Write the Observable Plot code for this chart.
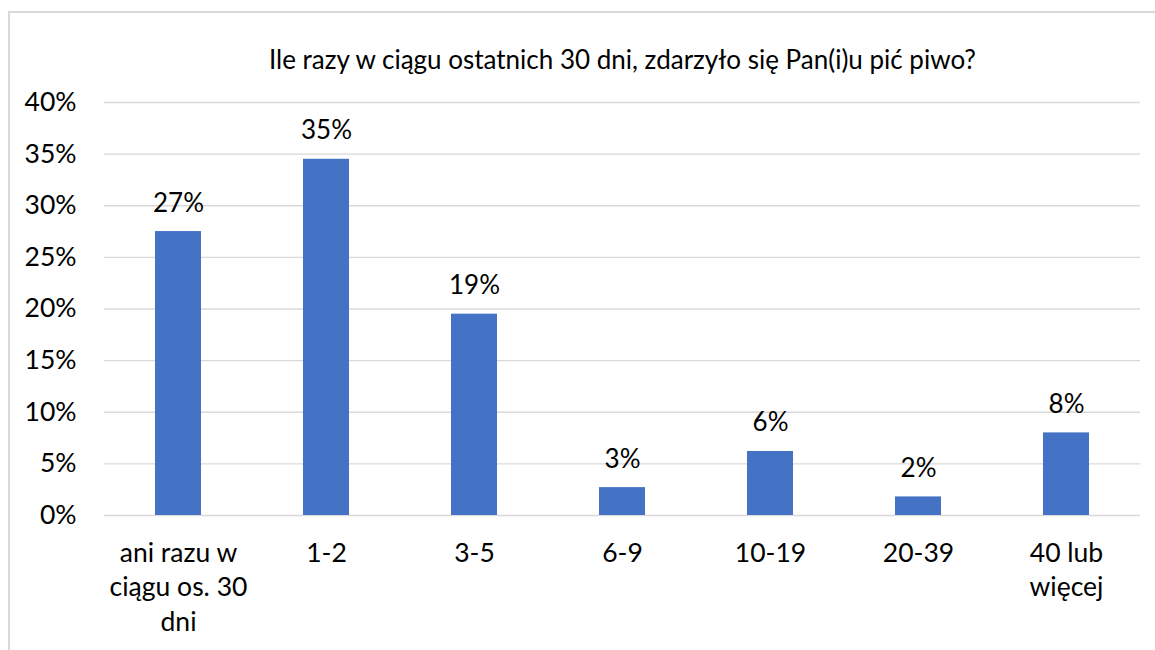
<!DOCTYPE html>
<html>
<head>
<meta charset="utf-8">
<script src="https://cdn.jsdelivr.net/npm/d3@7"></script>
<script src="https://cdn.jsdelivr.net/npm/@observablehq/plot@0.6"></script>
<style>
  html, body { margin: 0; padding: 0; background: #fff; }
  #wrap { position: relative; width: 1155px; height: 650px; overflow: hidden; }
  #frame { position: absolute; left: 8px; top: 11px; width: 1300px; height: 800px; border: 2px solid #d9d9d9; box-sizing: border-box; }
  #chart { position: absolute; left: 0; top: 0; }
</style>
</head>
<body>
<div id="wrap"><div id="frame"></div><div id="chart"></div></div>
<script>
const title = "Ile razy w ciągu ostatnich 30 dni, zdarzyło się Pan(i)u pić piwo?";
const categories = ["ani razu w\nciągu os. 30\ndni", "1-2", "3-5", "6-9", "10-19", "20-39", "40 lub\nwięcej"];
const values = [0.275, 0.345, 0.195, 0.027, 0.062, 0.018, 0.080];
const valueLabels = ["27%", "35%", "19%", "3%", "6%", "2%", "8%"];
const yTicks = [0, 0.05, 0.10, 0.15, 0.20, 0.25, 0.30, 0.35, 0.40];

const data = categories.map((c, i) => ({cat: c, value: values[i], label: valueLabels[i]}));

const chart = Plot.plot({
  width: 1155,
  height: 650,
  marginLeft: 104,
  marginRight: 15,
  marginTop: 102,
  marginBottom: 135,
  style: {fontFamily: "Lato", fontSize: "26px", color: "#000", background: "transparent"},
  x: {domain: categories, paddingInner: 0.689, paddingOuter: 0.3445, align: 0.5, label: null},
  y: {domain: [0, 0.4], label: null},
  marks: [
    Plot.gridY(yTicks, {stroke: "#d9d9d9", strokeOpacity: 1, strokeWidth: 1.3}),
    Plot.axisY(yTicks, {tickSize: 0, tickPadding: 28, tickFormat: d => Math.round(d * 100) + "%", label: null, fontSize: 26.5}),
    Plot.axisX({tickSize: 0, tickPadding: 22, label: null, fontSize: 26.5, lineHeight: 1.3}),
    Plot.barY(data, {x: "cat", y: "value", fill: "#4472C4"}),
    Plot.text(data, {x: "cat", y: "value", text: "label", lineAnchor: "bottom", dy: -20, fontSize: 26, fill: "#000"}),
    Plot.text([title], {frameAnchor: "top", lineAnchor: "bottom", dy: -34, fontSize: 26, fill: "#000"})
  ]
});
document.getElementById("chart").appendChild(chart);
</script>
</body>
</html>
